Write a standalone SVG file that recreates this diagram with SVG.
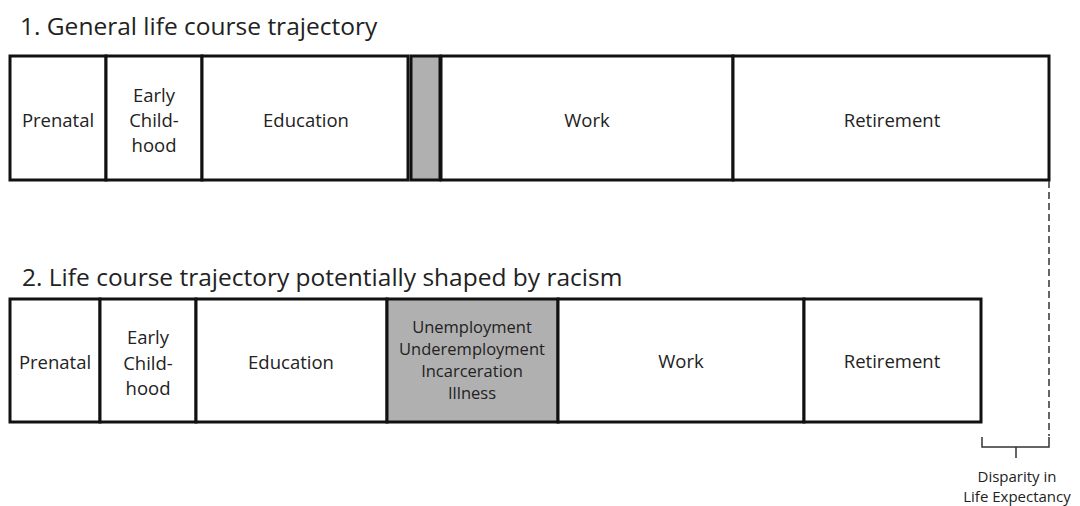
<svg xmlns="http://www.w3.org/2000/svg" width="1080" height="506" viewBox="0 0 1080 506">
<style>
  .box{fill:#fff;stroke:#111;stroke-width:3}
  .gray{fill:#b0b0b0;stroke:#111;stroke-width:3}
  .t{font-family:"Open Sans","Liberation Sans",sans-serif;font-size:18.5px;fill:#222;text-anchor:middle}
  .s{font-family:"Open Sans","Liberation Sans",sans-serif;font-size:16.5px;fill:#222;text-anchor:middle}
  .title{font-family:"Open Sans","Liberation Sans",sans-serif;font-size:24.5px;fill:#222}
  .d{font-family:"Open Sans","Liberation Sans",sans-serif;font-size:15px;fill:#222;text-anchor:middle}
</style>
<rect width="1080" height="506" fill="#fff"/>
<text class="title" x="20" y="35">1. General life course trajectory</text>
<text class="title" x="22" y="286">2. Life course trajectory potentially shaped by racism</text>

<g id="row1">
  <g id="r1-prenatal"><rect class="box" x="10" y="56" width="96" height="124"/><text class="t" x="58" y="127">Prenatal</text></g>
  <g id="r1-early"><rect class="box" x="106" y="56" width="96" height="124"/><text class="t" x="154" y="102">Early</text><text class="t" x="154" y="127">Child-</text><text class="t" x="154" y="152">hood</text></g>
  <g id="r1-education"><rect class="box" x="202" y="56" width="206" height="124"/><text class="t" x="306" y="127">Education</text></g>
  <g id="r1-gap"><rect class="gray" x="411" y="56" width="29" height="124"/></g>
  <g id="r1-work"><rect class="box" x="441" y="56" width="292" height="124"/><text class="t" x="587" y="127">Work</text></g>
  <g id="r1-retirement"><rect class="box" x="733" y="56" width="316" height="124"/><text class="t" x="892" y="127">Retirement</text></g>
</g>

<g id="row2">
  <g id="r2-prenatal"><rect class="box" x="10" y="299" width="90" height="123"/><text class="t" x="55" y="369">Prenatal</text></g>
  <g id="r2-early"><rect class="box" x="100" y="299" width="96" height="123"/><text class="t" x="148" y="344">Early</text><text class="t" x="148" y="370">Child-</text><text class="t" x="148" y="395">hood</text></g>
  <g id="r2-education"><rect class="box" x="196" y="299" width="191" height="123"/><text class="t" x="291" y="369">Education</text></g>
  <g id="r2-gap"><rect class="gray" x="387" y="299" width="171" height="123"/><text class="s" x="472" y="333">Unemployment</text><text class="s" x="472" y="355">Underemployment</text><text class="s" x="472" y="377">Incarceration</text><text class="s" x="472" y="399">Illness</text></g>
  <g id="r2-work"><rect class="box" x="558" y="299" width="246" height="123"/><text class="t" x="681" y="368">Work</text></g>
  <g id="r2-retirement"><rect class="box" x="804" y="299" width="177" height="123"/><text class="t" x="892" y="368">Retirement</text></g>
</g>

<g id="connectors" fill="none" stroke="#333" stroke-width="1.5">
  <line x1="1049" y1="181" x2="1049" y2="436" stroke-dasharray="7,4"/>
  <path d="M982,437 V447 H1049 V437"/>
  <line x1="1016" y1="447" x2="1016" y2="458"/>
</g>
<g id="disparity-label">
  <text class="d" x="1017" y="482">Disparity in</text>
  <text class="d" x="1017" y="502">Life Expectancy</text>
</g>
</svg>
